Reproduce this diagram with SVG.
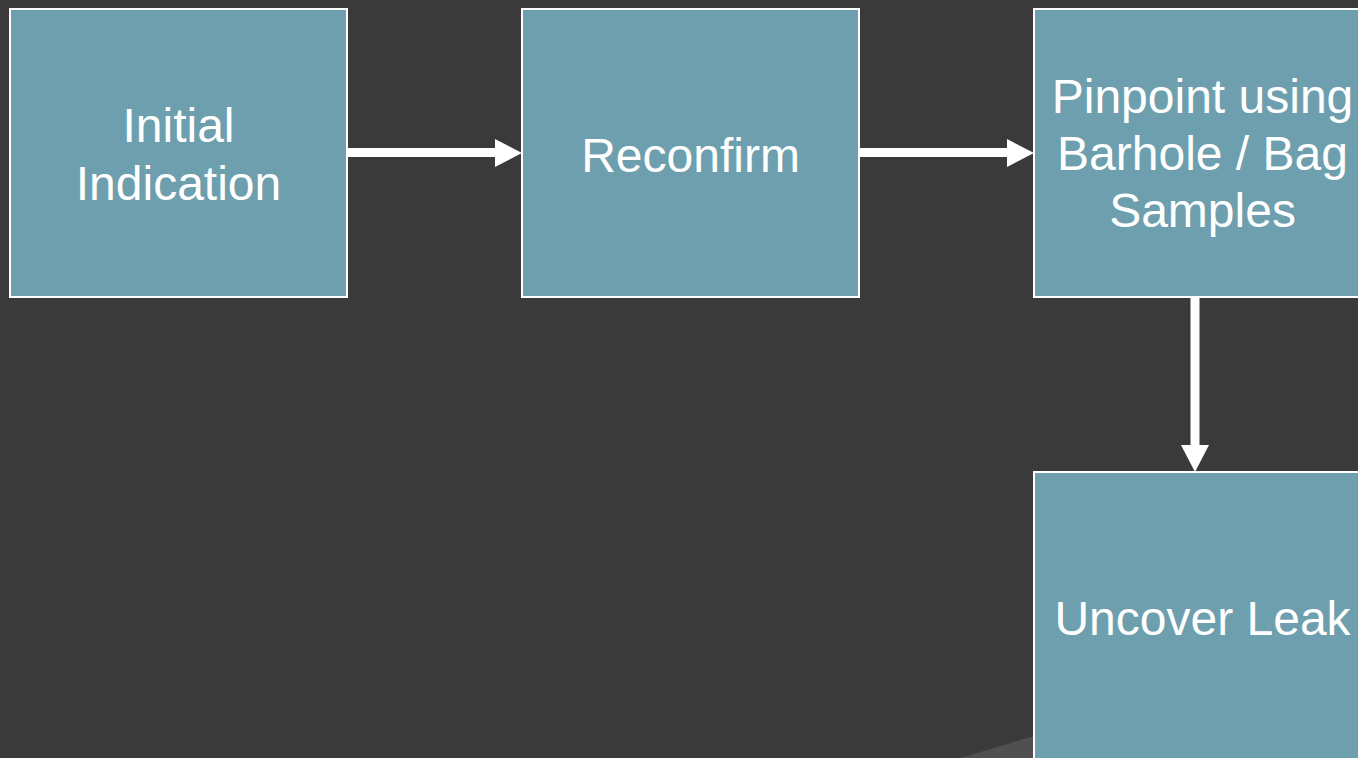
<svg xmlns="http://www.w3.org/2000/svg" width="1358" height="758" viewBox="0 0 1358 758">
<style>
.box{fill:#6d9fae;stroke:#ffffff;stroke-width:2}
.lbl{font-family:"Liberation Sans",Arial,sans-serif;font-size:48px;fill:#ffffff;text-anchor:middle}
.conn{stroke:#ffffff;stroke-width:9;fill:none}
.head{fill:#ffffff}
</style>
<rect x="0" y="0" width="1358" height="758" fill="#3a3a3a"/>
<polygon points="960,758 1034,736 1034,758" fill="#505050"/>
<g id="connectors">
<line class="conn" x1="348" y1="152.5" x2="496" y2="152.5"/>
<polygon class="head" points="495,139 522,153 495,167"/>
<line class="conn" x1="860" y1="152.5" x2="1008" y2="152.5"/>
<polygon class="head" points="1007,139 1034,153 1007,167"/>
<line class="conn" x1="1195" y1="298" x2="1195" y2="446"/>
<polygon class="head" points="1181,445 1209,445 1195,472"/>
</g>
<g id="node1">
<rect class="box" x="10" y="9" width="337" height="288"/>
<text class="lbl" x="178.5" y="142">Initial</text>
<text class="lbl" x="178.5" y="200">Indication</text>
</g>
<g id="node2">
<rect class="box" x="522" y="9" width="337" height="288"/>
<text class="lbl" x="690.5" y="172">Reconfirm</text>
</g>
<g id="node3">
<rect class="box" x="1034" y="9" width="337" height="288"/>
<text class="lbl" x="1202.5" y="113">Pinpoint using</text>
<text class="lbl" x="1202.5" y="170">Barhole / Bag</text>
<text class="lbl" x="1202.5" y="227">Samples</text>
</g>
<g id="node4">
<rect class="box" x="1034" y="472" width="337" height="300"/>
<text class="lbl" x="1202.5" y="635">Uncover Leak</text>
</g>
</svg>
